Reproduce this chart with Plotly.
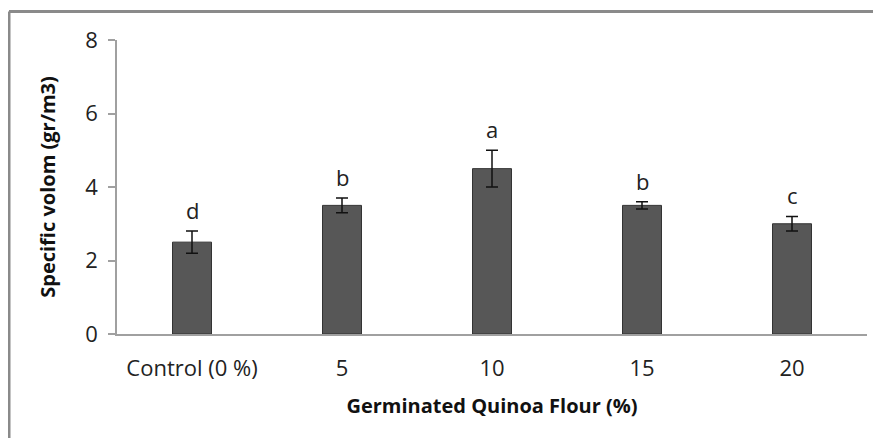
import plotly.graph_objects as go

categories = ["Control (0 %)", "5", "10", "15", "20"]
values = [2.5, 3.5, 4.5, 3.5, 3.0]
errors = [0.3, 0.2, 0.5, 0.1, 0.2]
letters = ["d", "b", "a", "b", "c"]
y_ticks = [0, 2, 4, 6, 8]

FONT = "Open Sans"

fig = go.Figure()
fig.add_trace(go.Bar(
    x=categories, y=values,
    width=0.26,
    marker=dict(color="#575757", line=dict(color="#333333", width=1)),
    error_y=dict(type="data", array=errors, visible=True, color="#111111",
                 thickness=1.5, width=6),
    showlegend=False,
))

for i, (v, e, t) in enumerate(zip(values, errors, letters)):
    fig.add_annotation(x=i, y=v + e, text=t, showarrow=False,
                       yanchor="middle", yshift=21,
                       font=dict(family=FONT, size=22, color="#222222"))

# outer frame (only top and left edges visible in the picture)
fig.add_shape(type="line", xref="paper", yref="paper",
              x0=-0.144, x1=1.2, y0=1.097, y1=1.097,
              line=dict(color="#8a8a8a", width=3), layer="below")
fig.add_shape(type="line", xref="paper", yref="paper",
              x0=-0.144, x1=-0.144, y0=-0.5, y1=1.097,
              line=dict(color="#8a8a8a", width=3), layer="below")

fig.update_layout(
    width=865, height=430,
    margin=dict(l=109, r=6, t=32, b=104),
    paper_bgcolor="white", plot_bgcolor="white",
    font=dict(family=FONT, size=22, color="#222222"),
    xaxis=dict(
        type="category", range=[-0.5, 4.5], automargin=False,
        showline=True, linecolor="#a0a0a0", linewidth=2,
        ticks="", showgrid=False, tickangle=0, ticklabelstandoff=14,
        tickfont=dict(family=FONT, size=22, color="#222222"),
        title=dict(text="<b>Germinated Quinoa Flour (%)</b>",
                   font=dict(family=FONT, size=20, color="#111111"), standoff=18),
    ),
    yaxis=dict(
        range=[0, 8], tickvals=y_ticks, automargin=False,
        showline=True, linecolor="#a0a0a0", linewidth=1.5,
        ticks="outside", ticklen=7, tickcolor="#a0a0a0", tickwidth=1.5,
        showgrid=False, zeroline=False, ticklabelstandoff=6,
        tickfont=dict(family=FONT, size=22, color="#222222"),
        title=dict(text="<b>Specific volom (gr/m3)</b>",
                   font=dict(family=FONT, size=20, color="#111111"), standoff=24),
    ),
)

fig.write_html("out.html", config={"displayModeBar": False})
